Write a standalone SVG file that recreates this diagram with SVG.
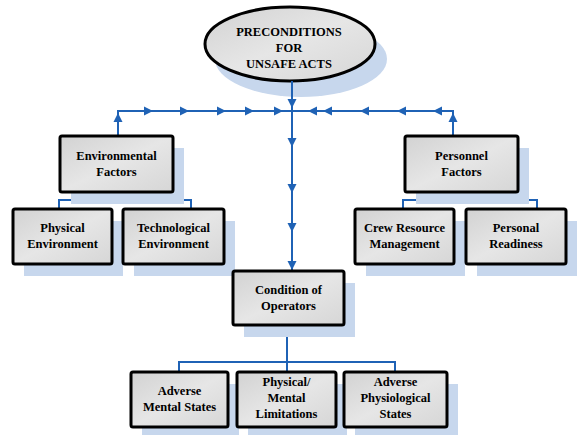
<svg xmlns="http://www.w3.org/2000/svg" xmlns:xlink="http://www.w3.org/1999/xlink" width="577" height="435" viewBox="0 0 577 435">
<style>
.box{fill:url(#g);stroke:#000;stroke-width:3}
.sh{fill:#c7d7ed}
.t{font-family:"Liberation Serif","Times New Roman",serif;font-weight:bold;font-size:12.5px;fill:#000;text-anchor:middle}
.c{fill:none;stroke:#1f62b5;stroke-width:2}
.ah{fill:#1f62b5}
</style>
<defs>
<linearGradient id="g" x1="0" y1="0" x2="1" y2="1">
<stop offset="0" stop-color="#d2d2d2"/>
<stop offset="0.5" stop-color="#e6e6e6"/>
<stop offset="1" stop-color="#d6d6d6"/>
</linearGradient>
<polygon id="a" points="-9,-4.5 0,0 -9,4.5"/>
</defs>
<rect width="577" height="435" fill="#fff"/>

<g id="preconditions">
<ellipse class="sh" cx="301" cy="59" rx="86" ry="38"/>
<ellipse class="box" cx="290" cy="44" rx="85" ry="37"/>
<text class="t" x="289" y="36">PRECONDITIONS</text>
<text class="t" x="289" y="52">FOR</text>
<text class="t" x="289" y="68">UNSAFE ACTS</text>
</g>

<g id="connectors">
<path class="c" d="M292 81V270M118 136V111H453V136"/>
<path class="c" d="M117 192V200M59 209V200H191V209"/>
<path class="c" d="M463 192V200M403 209V200H537V209"/>
<path class="c" d="M287 325V372M179 372V362H395V372"/>
<g class="ah">
<use xlink:href="#a" transform="translate(292,108) rotate(90)"/>
<use xlink:href="#a" transform="translate(292,147) rotate(90)"/>
<use xlink:href="#a" transform="translate(292,193) rotate(90)"/>
<use xlink:href="#a" transform="translate(292,232) rotate(90)"/>
<use xlink:href="#a" transform="translate(292,270) rotate(90)"/>
<use xlink:href="#a" transform="translate(153,111)"/>
<use xlink:href="#a" transform="translate(189,111)"/>
<use xlink:href="#a" transform="translate(226,111)"/>
<use xlink:href="#a" transform="translate(254,111)"/>
<use xlink:href="#a" transform="translate(283,111)"/>
<use xlink:href="#a" transform="translate(308,111) rotate(180)"/>
<use xlink:href="#a" transform="translate(323,111) rotate(180)"/>
<use xlink:href="#a" transform="translate(360,111) rotate(180)"/>
<use xlink:href="#a" transform="translate(397,111) rotate(180)"/>
<use xlink:href="#a" transform="translate(433,111) rotate(180)"/>
<use xlink:href="#a" transform="translate(118,113) rotate(-90)"/>
<use xlink:href="#a" transform="translate(453,113) rotate(-90)"/>
</g>
</g>

<g id="environmental-factors">
<rect class="sh" x="71" y="148" width="113" height="56"/>
<rect class="box" x="60" y="136" width="113" height="56" rx="2"/>
<text class="t" x="116.5" y="160">Environmental</text>
<text class="t" x="116.5" y="176">Factors</text>
</g>

<g id="personnel-factors">
<rect class="sh" x="416" y="148" width="113" height="56"/>
<rect class="box" x="405" y="136" width="113" height="56" rx="2"/>
<text class="t" x="461.5" y="160">Personnel</text>
<text class="t" x="461.5" y="176">Factors</text>
</g>

<g id="physical-environment">
<rect class="sh" x="24" y="221" width="99" height="55"/>
<rect class="box" x="13" y="209" width="99" height="55" rx="2"/>
<text class="t" x="62.5" y="232">Physical</text>
<text class="t" x="62.5" y="248">Environment</text>
</g>

<g id="technological-environment">
<rect class="sh" x="134" y="221" width="101" height="55"/>
<rect class="box" x="123" y="209" width="101" height="55" rx="2"/>
<text class="t" x="173.5" y="232">Technological</text>
<text class="t" x="173.5" y="248">Environment</text>
</g>

<g id="crew-resource-management">
<rect class="sh" x="366" y="221" width="99" height="55"/>
<rect class="box" x="355" y="209" width="99" height="55" rx="2"/>
<text class="t" x="404.5" y="232">Crew Resource</text>
<text class="t" x="404.5" y="248">Management</text>
</g>

<g id="personal-readiness">
<rect class="sh" x="477" y="221" width="100" height="55"/>
<rect class="box" x="466" y="209" width="100" height="55" rx="2"/>
<text class="t" x="516" y="232">Personal</text>
<text class="t" x="516" y="248">Readiness</text>
</g>

<g id="condition-of-operators">
<rect class="sh" x="244" y="283" width="111" height="54"/>
<rect class="box" x="233" y="271" width="111" height="54" rx="2"/>
<text class="t" x="288.5" y="294">Condition of</text>
<text class="t" x="288.5" y="310">Operators</text>
</g>

<g id="adverse-mental-states">
<rect class="sh" x="142" y="384" width="97" height="55"/>
<rect class="box" x="131" y="372" width="97" height="55" rx="2"/>
<text class="t" x="179.5" y="395">Adverse</text>
<text class="t" x="179.5" y="411">Mental States</text>
</g>

<g id="physical-mental-limitations">
<rect class="sh" x="248" y="384" width="99" height="55"/>
<rect class="box" x="237" y="372" width="99" height="55" rx="2"/>
<text class="t" x="286.5" y="386">Physical/</text>
<text class="t" x="286.5" y="402">Mental</text>
<text class="t" x="286.5" y="418">Limitations</text>
</g>

<g id="adverse-physiological-states">
<rect class="sh" x="355" y="384" width="103" height="55"/>
<rect class="box" x="344" y="372" width="103" height="55" rx="2"/>
<text class="t" x="395.5" y="386">Adverse</text>
<text class="t" x="395.5" y="402">Physiological</text>
<text class="t" x="395.5" y="418">States</text>
</g>
</svg>
